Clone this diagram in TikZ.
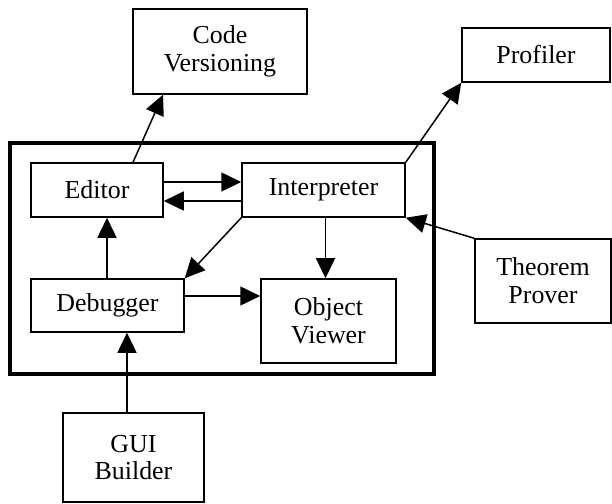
\documentclass[tikz,border=0pt]{standalone}
\usepackage{fontspec}
\setmainfont{Liberation Serif}
\usetikzlibrary{arrows.meta}

\begin{document}
\begin{tikzpicture}[x=1bp, y=-1bp,
    box/.style={draw, line width=1.5bp, align=center, inner sep=0pt,
        font=\fontsize{26}{28}\selectfont},
    arr/.style={line width=1.5bp, -{Triangle[length=20bp, width=19bp]}}]
    \useasboundingbox (0,0) rectangle (612,504);
    % tool frame
    \draw[line width=3.5bp] (10,143) rectangle (434,374);
    \node[box, minimum width=132bp, minimum height=54bp] (editor) at (97,190) {Editor};
    \node[box, minimum width=163bp, minimum height=54bp] (interp) at (323.5,190) {Interpreter};
    \node[box, minimum width=153bp, minimum height=53bp] (debug) at (107.5,305.5) {Debugger};
    \node[box, minimum width=135bp, minimum height=84bp] (viewer) at (328.5,321) {Object\\Viewer};
    % outside tools
    \node[box, minimum width=174bp, minimum height=85bp] (codever) at (220,51.5) {Code\\Versioning};
    \node[box, minimum width=148bp, minimum height=54bp] (profiler) at (536,55) {Profiler};
    \node[box, minimum width=136bp, minimum height=84bp] (prover) at (543,281) {Theorem\\Prover};
    \node[box, minimum width=141bp, minimum height=89bp] (gui) at (133.5,457.5) {GUI\\Builder};
    % connector ends
    \coordinate (interpOut) at ([xshift=2bp]interp.south);
    \coordinate (debugOut) at ([yshift=9.5bp]debug.east);
    \coordinate (debugUp) at ([xshift=-0.5bp]debug.north);
    \coordinate (guiUp) at ([xshift=-6.5bp]gui.north);
    % connectors
    \draw[arr] ([xshift=36bp]editor.north) -- ([xshift=-57bp]codever.south);
    \draw[arr] ([yshift=8bp]editor.east) -- ([yshift=8bp]interp.west);
    \draw[arr] ([yshift=-11bp]interp.west) -- ([yshift=-11bp]editor.east);
    \draw[arr] (interp.north east) -- (profiler.south west);
    \draw[arr] (prover.north west) -- (interp.south east);
    \draw[arr] (interp.south west) -- (debug.north east);
    \draw[arr] (interpOut) -- (viewer.north -| interpOut);
    \draw[arr] (debugOut) -- (viewer.west |- debugOut);
    \draw[arr] (debugUp) -- (editor.south -| debugUp);
    \draw[arr] (guiUp) -- (debug.south -| guiUp);
\end{tikzpicture}
\end{document}
